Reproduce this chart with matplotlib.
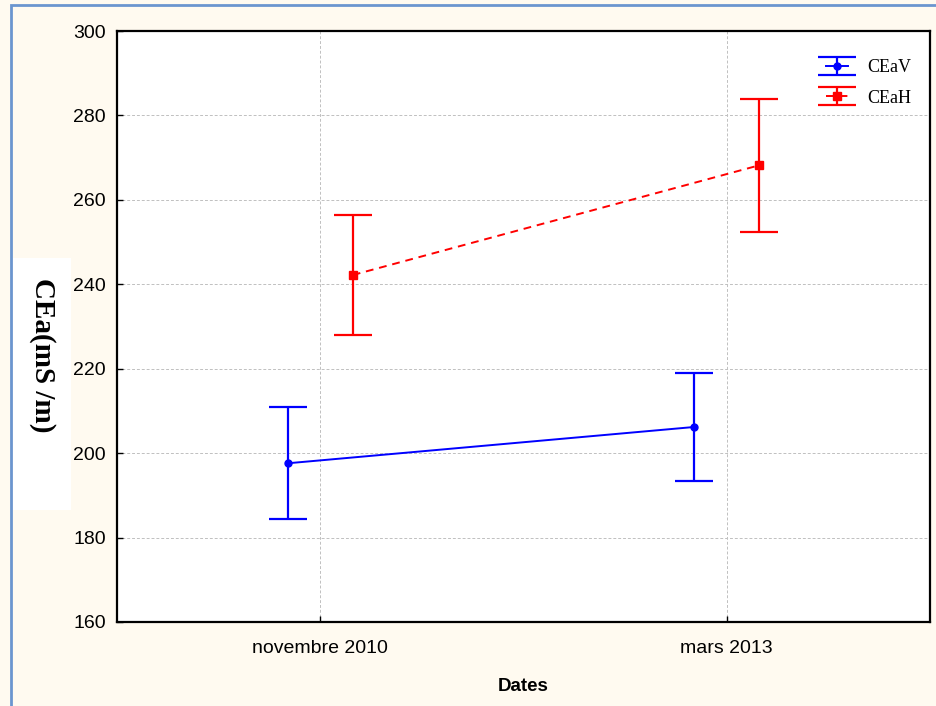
import matplotlib.pyplot as plt
import matplotlib.patches as patches
import numpy as np

dates = ["novembre 2010", "mars 2013"]
cea_v = [197.6, 206.2]
cea_v_err = [13.3, 12.7]
cea_h = [242.2, 268.2]
cea_h_err = [14.2, 15.7]

fig = plt.figure(figsize=(9.37, 7.06), dpi=100, facecolor="#fffaf0")
ax = fig.add_axes([0.1249, 0.119, 0.8676, 0.837])

x = np.arange(len(dates))
off = 0.08

ax.errorbar(x - off, cea_v, yerr=cea_v_err, color="#0000ff", marker="o", markersize=5,
            linewidth=1.4, elinewidth=1.6, capsize=14, capthick=1.6, label="CEaV", zorder=3)
ax.errorbar(x + off, cea_h, yerr=cea_h_err, color="#ff0000", marker="s", markersize=6,
            linewidth=1.4, linestyle="--", dashes=(4, 3), elinewidth=1.6, capsize=14,
            capthick=1.6, label="CEaH", zorder=3)

ax.set_xlim(-0.5, 1.5)
ax.set_ylim(160, 300)
ax.set_xticks(x)
ax.set_xticklabels(dates, family="Liberation Sans", fontsize=14)
ax.set_yticks(np.arange(160, 301, 20))
for lab in ax.get_yticklabels():
    lab.set_family("Liberation Sans")
    lab.set_fontsize(14)
ax.tick_params(direction="in", length=4, width=1)
ax.tick_params(axis="x", pad=13)
ax.tick_params(axis="y", pad=8)

ax.grid(True, linestyle=(0, (3, 2)), linewidth=0.7, color="#c0c0c0")
ax.set_axisbelow(True)
for s in ax.spines.values():
    s.set_linewidth(1.6)

ax.set_xlabel("Dates", family="Liberation Sans", fontweight="bold", fontsize=13.5, labelpad=15)

# white panel behind the y label
fig.patches.append(patches.Rectangle((13 / 937, 1 - 510 / 706), 58 / 937, 252 / 706,
                                     transform=fig.transFigure, facecolor="white",
                                     edgecolor="none"))
fig.text(42 / 937, 1 - 355 / 706, "CEa(mS /m)", rotation=-90, ha="center", va="center",
         family="Liberation Serif", fontweight="bold", fontsize=21)

leg = ax.legend(loc="upper right", bbox_to_anchor=(0.986, 0.965), frameon=False,
                prop={"family": "Liberation Serif", "size": 13},
                handlelength=1.2, handletextpad=1.1, borderaxespad=0, labelspacing=0.75)

# outer blue frame
fig.patches.append(patches.Rectangle((11 / 937, -0.05), 1.2, 1 - 5 / 706 + 0.05,
                                     transform=fig.transFigure, fill=False,
                                     edgecolor="#6b95cf", linewidth=2))

fig.savefig("out.png", dpi=100, facecolor=fig.get_facecolor())
